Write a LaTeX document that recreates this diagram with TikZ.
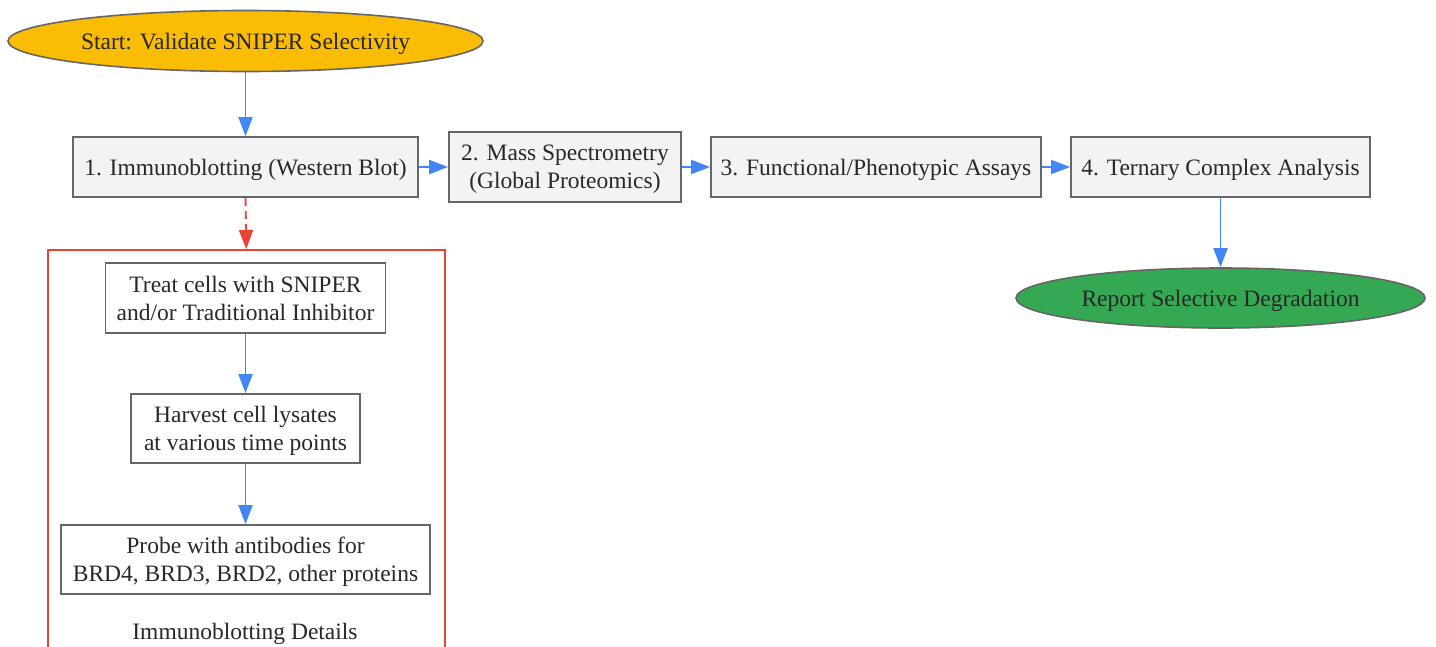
\documentclass[tikz,border=0pt]{standalone}
\usepackage{fontspec}
\setmainfont{Liberation Serif}
\usepackage{tikz}
\usetikzlibrary{shapes.geometric,arrows.meta}
\definecolor{blue1}{RGB}{66,133,244}
\definecolor{my_red}{RGB}{234,67,53}
\definecolor{my_yellow}{RGB}{251,188,5}
\definecolor{my_green}{RGB}{52,168,83}
\definecolor{box_fill}{RGB}{241,243,245}
\definecolor{box_line}{RGB}{102,102,102}
\definecolor{txt}{RGB}{40,40,40}

\begin{document}
\begin{tikzpicture}[x=1pt,y=-1pt,
  every node/.style={font=\fontsize{23.5}{28}\selectfont, text=txt, align=center, text depth=0pt},
  stepbox/.style={draw=box_line, line width=1.8pt, fill=box_fill, rectangle, inner sep=0pt},
  detailbox/.style={draw=box_line, line width=1.8pt, fill=white, rectangle, inner sep=0pt},
  terminal/.style={draw=box_line, line width=1.6pt, ellipse, inner sep=0pt},
  flow/.style={draw=blue1, line width=1.9pt, -{Triangle[length=19pt,width=14pt]}},
  detail/.style={draw=my_red, line width=1.9pt, dash pattern=on 8pt off 5pt, -{Triangle[length=19pt,width=14pt]}}
]
 \useasboundingbox (0,0) rectangle (1436,646);

 % cluster
 \node[draw=my_red, line width=1.6pt, rectangle, minimum width=397pt, minimum height=420pt, inner sep=0pt, anchor=north west] (cluster) at (47,249) {};
 \node (cluster_label) at (245,631) {Immunoblotting Details};

 % main line
 \node[terminal, fill=my_yellow, minimum width=475pt, minimum height=61pt] (start) at (245.5,41) {Start: Validate SNIPER Selectivity};
 \node[stepbox, minimum width=345pt, minimum height=60pt] (wb) at (245.5,167) {1. Immunoblotting (Western Blot)};
 \node[stepbox, minimum width=232pt, minimum height=70pt] (ms) at (565,167) {2. Mass Spectrometry\\(Global Proteomics)};
 \node[stepbox, minimum width=330pt, minimum height=60pt] (fa) at (876,167) {3. Functional/Phenotypic Assays};
 \node[stepbox, minimum width=299pt, minimum height=60pt] (tc) at (1220.5,167) {4. Ternary Complex Analysis};
 \node[terminal, fill=my_green, minimum width=409pt, minimum height=60pt] (report) at (1220.5,298) {Report Selective Degradation};

 % details
 \node[detailbox, minimum width=280pt, minimum height=70pt] (treat) at (245.5,298) {Treat cells with SNIPER\\and/or Traditional Inhibitor};
 \node[detailbox, minimum width=229pt, minimum height=69pt] (harvest) at (245.5,428.5) {Harvest cell lysates\\at various time points};
 \node[detailbox, minimum width=369pt, minimum height=69pt] (probe) at (245.5,559.5) {Probe with antibodies for\\BRD4, BRD3, BRD2, other proteins};

 \draw[flow] (start) -- (wb);
 \draw[flow] (wb) -- (ms);
 \draw[flow] (ms) -- (fa);
 \draw[flow] (fa) -- (tc);
 \draw[flow] (tc) -- (report);
 \draw[detail] (wb.south) -- (cluster.north);
 \draw[flow] (treat) -- (harvest);
 \draw[flow] (harvest) -- (probe);
\end{tikzpicture}
\end{document}
